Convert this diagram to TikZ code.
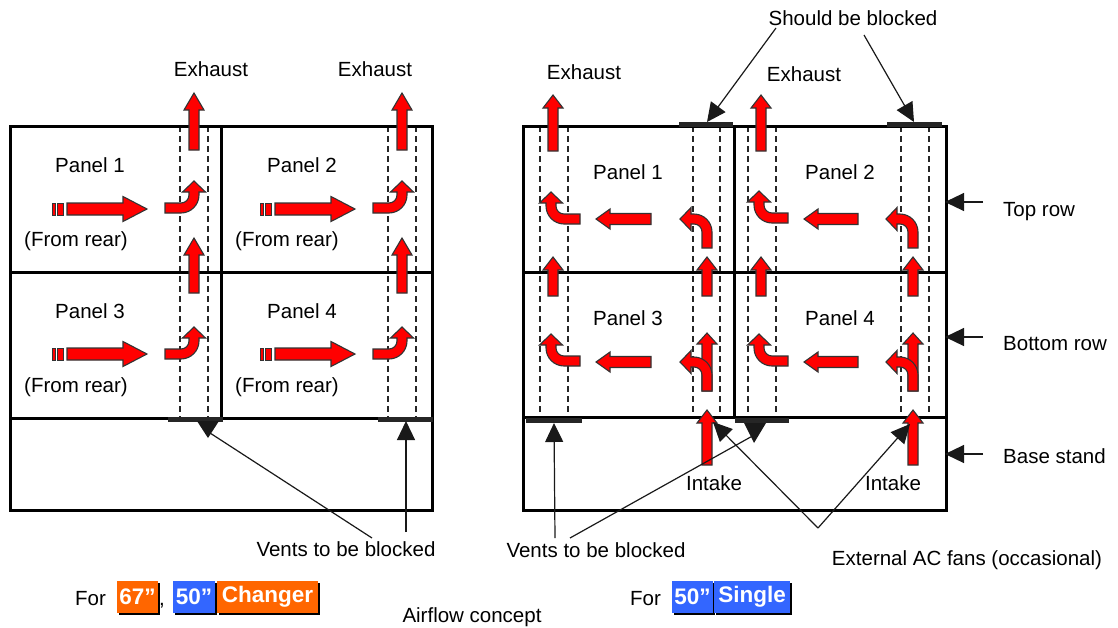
\documentclass[tikz,border=0pt]{standalone}
\usepackage{fontspec}
\setmainfont{Liberation Sans}
\usetikzlibrary{arrows.meta,shadows}
\definecolor{arrred}{HTML}{FF0000}
\definecolor{arredge}{HTML}{333333}
\definecolor{orng}{HTML}{FF6600}
\definecolor{blu}{HTML}{3366FF}
\newcommand\sarr[7]{\draw[redarr, shift={(#1,#2)}, rotate=#4] (0,-#5) -- ({#3-#7},-#5) -- ({#3-#7},-#6) -- (#3,0) -- ({#3-#7},#6) -- ({#3-#7},#5) -- (0,#5) -- cycle;}
\newcommand\barr[4]{\draw[redarr, shift={(#1,#2)}, rotate=#3, xscale=#4] (-29,-5) -- (-13,-5) .. controls (-8.6,-5) and (-5,-8.6) .. (-5,-13) -- (-5,-16) -- (-11.5,-16) -- (0,-27) -- (11.5,-16) -- (5,-16) -- (5,-13) .. controls (5,-3.1) and (-3.1,5) .. (-13,5) -- (-29,5) -- cycle;}
\begin{document}
\begin{tikzpicture}[x=1pt,y=-1pt,
  redarr/.style={fill=arrred, draw=arredge, line width=1.1pt, line join=miter},
  stripe/.style={fill=arrred, draw=arredge, line width=0.7pt},
  frame/.style={line width=3pt},
  duct/.style={dash pattern=on 6pt off 4pt, line width=1.2pt, draw=black!85},
  ventbar/.style={line width=5pt, draw=black!85},
  conn/.style={line width=1.2pt, draw=black!90, -{Triangle[length=19pt,width=18pt]}},
  lbl/.style={font=\fontsize{20.5}{24}\selectfont, inner sep=0pt, anchor=base},
  tag/.style={font=\fontsize{22.5}{26}\bfseries, text=white, inner sep=0pt, minimum height=32pt,
     drop shadow={shadow xshift=2pt, shadow yshift=-2pt, fill=black, opacity=1}},
]
\useasboundingbox (0,0) rectangle (1118,627);

% ---------- LEFT DIAGRAM ----------
\foreach \x in {180,208,388,416} {\draw[duct] (\x,126) -- (\x,418);}
\draw[frame] (10,126) rectangle (432,510);
\draw[frame] (10,272) -- (432,272);
\draw[frame] (10,418) -- (432,418);
\draw[frame] (221,126) -- (221,418);
\draw[ventbar] (168,419) -- (223,419);
\draw[ventbar] (378,419) -- (433,419);

\foreach \dx in {0,208} {
  \foreach \y in {209,354} {
    \sarr{67+\dx}{\y}{80}{0}{6}{12.5}{24}
    \draw[stripe] (52.5+\dx,\y-6) rectangle (55.5+\dx,\y+6);
    \draw[stripe] (57.5+\dx,\y-6) rectangle (63.5+\dx,\y+6);
  }
  \barr{194+\dx}{208}{0}{1}
  \barr{194+\dx}{354}{0}{1}
  \sarr{194+\dx}{150}{57}{90}{5}{10}{17}
  \sarr{194+\dx}{293}{55}{90}{5}{10}{17}
}

\node[lbl] (exL1) at (211,76) {Exhaust};
\node[lbl] (exL2) at (375,76) {Exhaust};
\node[lbl] (p1L) at (90,172) {Panel 1};
\node[lbl] (fr1) at (76,246) {(From rear)};
\node[lbl] (p2L) at (302,172) {Panel 2};
\node[lbl] (fr2) at (287,246) {(From rear)};
\node[lbl] (p3L) at (90,318) {Panel 3};
\node[lbl] (fr3) at (76,392) {(From rear)};
\node[lbl] (p4L) at (302,318) {Panel 4};
\node[lbl] (fr4) at (287,392) {(From rear)};
\node[lbl] (vL) at (346,556) {Vents to be blocked};

\coordinate (vLa) at (372,538);
\coordinate (vLb) at (406,532);
\coordinate (ventL1) at (210,433);
\coordinate (ventL2) at (406,421);
\draw[line width=1.2pt, draw=black!90] (vLa) -- (ventL1);
\fill[black!90] (197,421) -- (219,421) -- (208,438) -- cycle;
\draw[conn] (vLb) -- (ventL2);

% ---------- RIGHT DIAGRAM ----------
\foreach \x in {540,568,693,720,748,776,901,929} {\draw[duct] (\x,126) -- (\x,417);}
\draw[frame] (523,126) rectangle (946,510);
\draw[frame] (523,272) -- (946,272);
\draw[frame] (523,417) -- (946,417);
\draw[frame] (734,126) -- (734,417);
\draw[ventbar] (679,124.5) -- (733,124.5);
\draw[ventbar] (887,124.5) -- (942,124.5);
\draw[ventbar] (526,420.5) -- (582,420.5);
\draw[ventbar] (735,420.5) -- (789,420.5);

% exhaust
\sarr{553}{151}{56}{90}{5}{10}{13}
\sarr{761}{151}{56}{90}{5}{10}{13}
% between rows
\foreach \x in {553,707,761,913} {\sarr{\x}{296}{39}{90}{5}{10}{13}}
% intake
\sarr{707}{465}{55}{90}{5}{10}{13}
\sarr{913}{465}{55}{90}{5}{10}{13}
% horizontal
\foreach \y in {219,362} {
  \sarr{651}{\y}{55}{180}{5.5}{10}{14}
  \sarr{858}{\y}{54}{180}{5.5}{10}{14}
}
% bends, left columns
\barr{551}{219}{0}{-1}
\barr{759}{218}{0}{-1}
\barr{551}{361}{0}{-1}
\barr{759}{361}{0}{-1}
% bends, right columns, top row
\barr{707}{219}{90}{1}
\barr{913}{219}{90}{1}
% split arrows, bottom row
\sarr{707}{391}{58}{90}{5}{10}{11}
\barr{707}{362}{90}{1}
\sarr{913}{391}{58}{90}{5}{10}{11}
\barr{913}{362}{90}{1}

\node[lbl] (exR1) at (584,79) {Exhaust};
\node[lbl] (exR2) at (804,81) {Exhaust};
\node[lbl] (sbb) at (853,25) {Should be blocked};
\node[lbl] (p1R) at (628,179) {Panel 1};
\node[lbl] (p2R) at (840,179) {Panel 2};
\node[lbl] (p3R) at (628,325) {Panel 3};
\node[lbl] (p4R) at (840,325) {Panel 4};
\node[lbl] (in1) at (714,490) {Intake};
\node[lbl] (in2) at (893,490) {Intake};
\node[lbl, anchor=base west] (toprow) at (1003,216) {Top row};
\node[lbl, anchor=base west] (botrow) at (1003,350) {Bottom row};
\node[lbl, anchor=base west] (basest) at (1003,463) {Base stand};
\node[lbl] (vR) at (596,557) {Vents to be blocked};
\node[lbl] (ext) at (967,565) {External AC fans (occasional)};

\coordinate (sbbA) at (776,28);
\coordinate (sbbB) at (864,35);
\coordinate (blk1) at (707,122);
\coordinate (blk2) at (914,122);
\draw[conn] (sbbA) -- (blk1);
\draw[conn] (sbbB) -- (blk2);

\coordinate (trS) at (983,202); \coordinate (trE) at (945,202);
\coordinate (brS) at (983,337); \coordinate (brE) at (945,337);
\coordinate (bsS) at (983,454); \coordinate (bsE) at (945,454);
\draw[conn] (trS) -- (trE);
\draw[conn] (brS) -- (brE);
\draw[conn] (bsS) -- (bsE);

\coordinate (vRa) at (555,538);
\coordinate (vRb) at (570,538);
\coordinate (ventR1) at (554,423);
\coordinate (ventR2) at (756,434);
\draw[conn] (vRa) -- (ventR1);
\draw[line width=1.2pt, draw=black!90] (vRb) -- (ventR2);
\fill[black!90] (744,423) -- (766,423) -- (754,443) -- cycle;

\coordinate (extV) at (818,528);
\coordinate (fan1) at (713,422);
\coordinate (fan2) at (910,424);
\draw[conn] (extV) -- (fan1);
\draw[conn] (extV) -- (fan2);

% ---------- captions ----------
\node[lbl, anchor=base west] (forL) at (75,605) {For};
\node[tag, fill=orng, minimum width=41pt] (t67) at (137.5,597) {67”};
\node[lbl] (comma) at (162,605) {,};
\node[tag, fill=blu, minimum width=42pt] (t50a) at (194,597) {50”};
\node[tag, fill=orng, minimum width=101pt] (tch) at (267.5,597) {Changer};
\node[lbl] (air) at (472,622) {Airflow concept};
\node[lbl, anchor=base west] (forR) at (630,605) {For};
\node[tag, fill=blu, minimum width=41pt] (t50b) at (692.5,597) {50”};
\node[tag, fill=blu, minimum width=76pt] (tsi) at (752,597) {Single};
\end{tikzpicture}
\end{document}
